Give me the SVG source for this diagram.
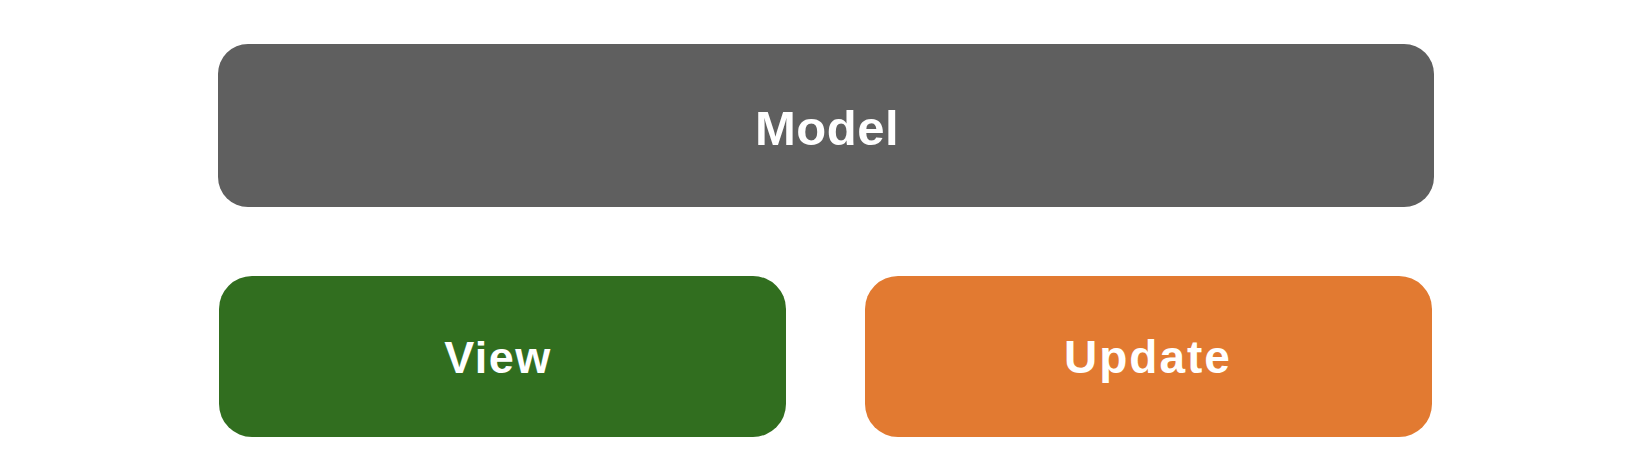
<svg xmlns="http://www.w3.org/2000/svg" width="1650" height="470" viewBox="0 0 1650 470">
<style>
text{font-family:"Liberation Sans",Arial,Helvetica,sans-serif;font-weight:bold;fill:#ffffff;text-anchor:middle}
</style>
<rect width="1650" height="470" fill="#ffffff"/>
<g id="model">
<rect x="218" y="44" width="1216" height="163" rx="30" ry="30" fill="#5f5f5f"/>
<text x="827" y="145" font-size="49" letter-spacing="0.5">Model</text>
</g>
<g id="view">
<rect x="219" y="276" width="567" height="161" rx="33" ry="33" fill="#316e1f"/>
<text x="498" y="373" font-size="45" letter-spacing="1.5">View</text>
</g>
<g id="update">
<rect x="865" y="276" width="567" height="161" rx="33" ry="33" fill="#e27a31"/>
<text x="1148" y="373" font-size="46" letter-spacing="2">Update</text>
</g>
<g id="connectors"></g>
</svg>
